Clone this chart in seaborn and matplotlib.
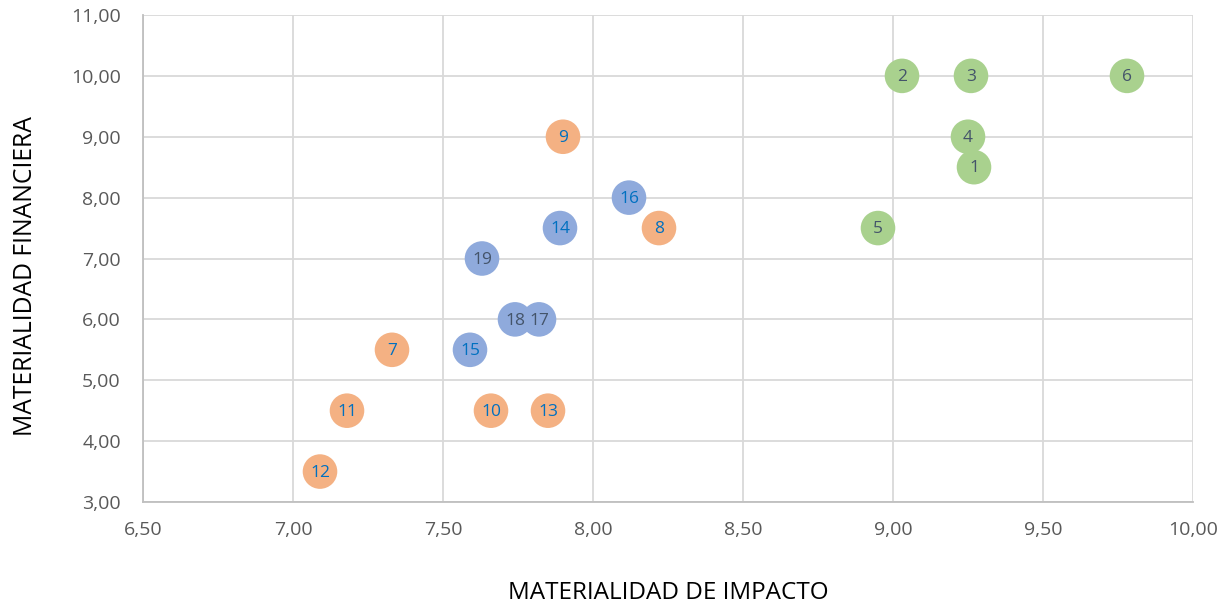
import matplotlib
matplotlib.use("Agg")
import matplotlib.pyplot as plt
import seaborn as sns
import pandas as pd

ids = [1, 2, 3, 4, 5, 6, 7, 8, 9, 10, 11, 12, 13, 14, 15, 16, 17, 18, 19]
impacto = [9.27, 9.03, 9.26, 9.25, 8.95, 9.78, 7.33, 8.22, 7.90, 7.66, 7.18, 7.09,
           7.85, 7.89, 7.59, 8.12, 7.82, 7.74, 7.63]
financiera = [8.5, 10.0, 10.0, 9.0, 7.5, 10.0, 5.5, 7.5, 9.0, 4.5, 4.5, 3.5,
              4.5, 7.5, 5.5, 8.0, 6.0, 6.0, 7.0]
grupo = ["A"] * 6 + ["B"] * 7 + ["C"] * 6
label_color = ["navy"] * 6 + ["blue"] * 7 + ["blue", "blue", "blue", "navy", "navy", "navy"]

x_ticks = [6.5, 7.0, 7.5, 8.0, 8.5, 9.0, 9.5, 10.0]
y_ticks = [3, 4, 5, 6, 7, 8, 9, 10, 11]

df = pd.DataFrame({"id": ids, "x": impacto, "y": financiera, "g": grupo, "lc": label_color})

sns.set_style("white")
plt.rcParams["font.family"] = ["Open Sans", "DejaVu Sans"]

fig = plt.figure(figsize=(12.23, 6.09), dpi=100)
ax = fig.add_axes([143 / 1223, 1 - 502 / 609, (1193 - 143) / 1223, (502 - 15) / 609])

palette = {"A": "#A9D18E", "B": "#F4B183", "C": "#8FAADC"}
sns.scatterplot(data=df, x="x", y="y", hue="g", palette=palette, s=620,
                linewidth=0, legend=False, ax=ax, zorder=3)

tcol = {"navy": "#44546A", "blue": "#0070C0"}
for _, r in df.iterrows():
    ax.text(r["x"], r["y"] - 0.02, str(r["id"]), ha="center", va="center",
            fontsize=12.5, color=tcol[r["lc"]], zorder=4)

ax.set_xlim(6.5, 10.0)
ax.set_ylim(3, 11)
ax.set_xticks(x_ticks)
ax.set_yticks(y_ticks)
ax.set_xticklabels([f"{v:.2f}".replace(".", ",") for v in x_ticks])
ax.set_yticklabels([f"{v:.2f}".replace(".", ",") for v in y_ticks])
ax.tick_params(axis="both", labelsize=14, colors="#595959", length=0)
ax.tick_params(axis="x", pad=14)
ax.tick_params(axis="y", pad=16)
ax.grid(True, color="#D9D9D9", linewidth=1.3)
ax.set_axisbelow(True)
for side in ["top", "right"]:
    ax.spines[side].set_visible(False)
for side in ["left", "bottom"]:
    ax.spines[side].set_color("#BFBFBF")
    ax.spines[side].set_linewidth(1.3)

ax.set_xlabel("MATERIALIDAD DE IMPACTO", fontsize=17.5, color="#000000", labelpad=30)
ax.set_ylabel("MATERIALIDAD FINANCIERA", fontsize=17.8, color="#000000")
ax.yaxis.set_label_coords((38 - 143) / 1050, (502 - 276) / 487)

fig.savefig("out.png", dpi=100)
